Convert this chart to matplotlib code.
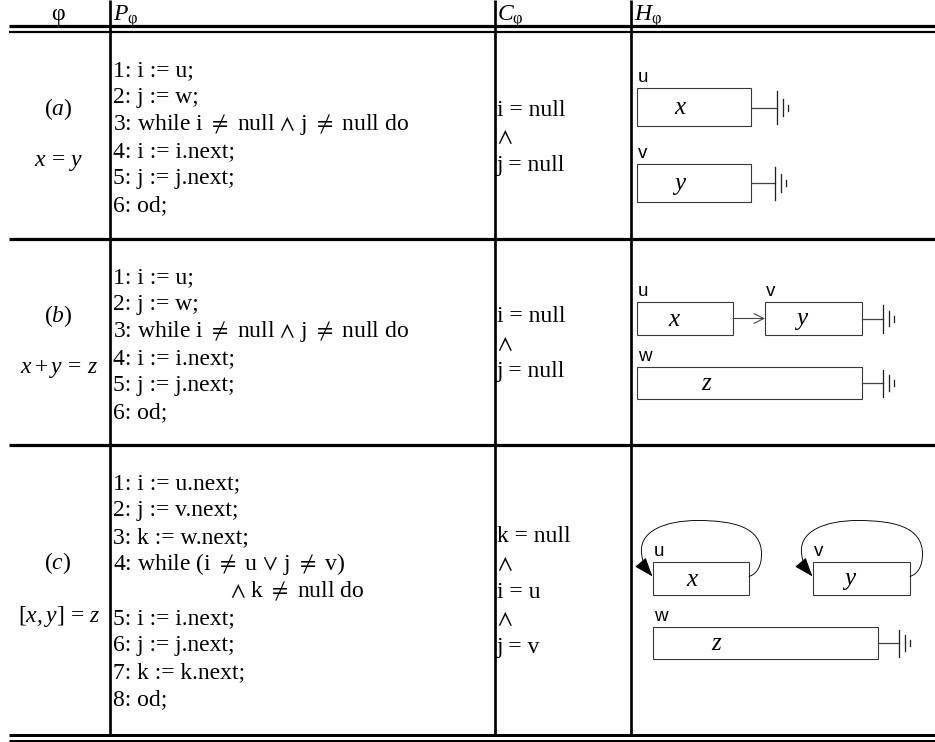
import matplotlib
matplotlib.use("Agg")
import matplotlib.pyplot as plt
from matplotlib.patches import Rectangle, FancyArrowPatch
from matplotlib.path import Path

plt.rcParams["font.family"] = ["Liberation Serif", "STIXGeneral", "DejaVu Serif"]
plt.rcParams["mathtext.fontset"] = "custom"
plt.rcParams["mathtext.rm"] = "Liberation Serif"
plt.rcParams["mathtext.it"] = "Liberation Serif:italic"
plt.rcParams["mathtext.fallback"] = "stix"

# ---- table content ----
headers = ["φ", r"$P_{\mathrm{φ}}$", r"$C_{\mathrm{φ}}$", r"$H_{\mathrm{φ}}$"]

phi_names = [r"$(a)$", r"$(b)$", r"$(c)$"]
phi_formulas = [r"$x\,=\,y$", r"$x + y\,=\,z$", r"$[x, y]\,=\,z$"]

programs = [
    ["1: i := u;", "2: j := w;", r"3: while i $\neq$ null $\wedge$ j $\neq$ null do",
     "4: i := i.next;", "5: j := j.next;", "6: od;"],
    ["1: i := u;", "2: j := w;", r"3: while i $\neq$ null $\wedge$ j $\neq$ null do",
     "4: i := i.next;", "5: j := j.next;", "6: od;"],
    ["1: i := u.next;", "2: j := v.next;", "3: k := w.next;",
     r"4: while (i $\neq$ u $\vee$ j $\neq$ v)", r"$\wedge$ k $\neq$ null do",
     "5: i := i.next;", "6: j := j.next;", "7: k := k.next;", "8: od;"],
]
# which program lines are continuation lines (indented)
continued = [[], [], [4]]

conditions = [
    ["i = null", r"$\wedge$", "j = null"],
    ["i = null", r"$\wedge$", "j = null"],
    ["k = null", r"$\wedge$", "i = u", r"$\wedge$", "j = v"],
]

heap_pointers = [["u", "v"], ["u", "v", "w"], ["u", "v", "w"]]
heap_contents = [["x", "y"], ["x", "y", "z"], ["x", "y", "z"]]

# ---- layout (pixels) ----
W, H = 935, 742
col_x = [110, 495, 631]           # vertical rules
row_top = [32, 239, 445]
row_bot = [239, 445, 734]
line_step = 27

fig = plt.figure(figsize=(W / 100, H / 100), dpi=100)
ax = fig.add_axes([0, 0, 1, 1])
ax.set_xlim(0, W)
ax.set_ylim(H, 0)
ax.axis("off")

px = 0.72  # pixel -> points

# rules
ax.plot([9, W], [26, 26], color="k", lw=3.2 * px, solid_capstyle="butt")
ax.plot([9, W], [32, 32], color="k", lw=2.2 * px, solid_capstyle="butt")
for y in row_bot[:-1]:
    ax.plot([9, W], [y, y], color="k", lw=3.2 * px, solid_capstyle="butt")
ax.plot([9, W], [734.5, 734.5], color="k", lw=3.0 * px, solid_capstyle="butt")
ax.plot([9, W], [740.5, 740.5], color="k", lw=3.0 * px, solid_capstyle="butt")
for x in col_x:
    ax.plot([x, x], [0, 734], color="k", lw=2.7 * px, solid_capstyle="butt")

fs = 17

# header
ax.text(58, 20, headers[0], fontsize=fs, ha="center", va="baseline")
ax.text(113, 21, headers[1], fontsize=fs, ha="left", va="baseline")
ax.text(497, 21, headers[2], fontsize=fs, ha="left", va="baseline")
ax.text(634, 21, headers[3], fontsize=fs, ha="left", va="baseline")

for r in range(3):
    top, bot = row_top[r], row_bot[r]
    yc = (top + bot) / 2
    # phi column
    ax.text(58, yc - 26, phi_names[r], fontsize=fs, ha="center", va="center")
    ax.text(59, yc + 27, phi_formulas[r], fontsize=fs, ha="center", va="center")
    # program column
    for k, line in enumerate(programs[r]):
        x = 230 if k in continued[r] else 113
        ax.text(x, top + 36 + 8 + k * line_step, line, fontsize=fs,
                ha="left", va="baseline", math_fontfamily="stix")
    # condition column
    n = len(conditions[r])
    for k, c in enumerate(conditions[r]):
        y = yc + (k - (n - 1) / 2) * 27.5 + 8
        ax.text(497, y, c, fontsize=fs, ha="left", va="baseline",
                math_fontfamily="stix")


def cell(x0, y0, w, h, ptr, val, dx):
    ax.add_patch(Rectangle((x0, y0), w, h, fill=False, ec="#383838", lw=1.1 * px))
    ax.text(x0 + 1, y0 - 6, ptr, fontsize=13.5, family="Liberation Sans",
            ha="left", va="baseline")
    ax.text(x0 + dx, y0 + h / 2 + 1, val, fontsize=fs + 1, style="italic",
            ha="center", va="center")


def ground(x, yc, h, length):
    ax.plot([x, x + length], [yc, yc], color="#444444", lw=1.3 * px)
    xs = [x + length, x + length + 5.5, x + length + 10.5]
    hs = [h - 5, h * 0.47, 6]
    for xx, hh in zip(xs, hs):
        ax.plot([xx, xx], [yc - hh / 2, yc + hh / 2], color="#222222", lw=1.3 * px)


def self_loop(x0, y0, w):
    rel = [(w, 14.4), (w + 8, 12), (w + 12.5, 4), (w + 12.5, -8),
           (w + 12.5, -35), (w - 16, -41.5), (45, -41.5),
           (10, -41.5), (-11.6, -30), (-11.6, -12),
           (-11.6, 0), (-6, 8), (-0.6, 14.4)]
    verts = [(x0 + a, y0 + b) for a, b in rel]
    codes = [Path.MOVETO] + [Path.CURVE4] * 12
    arr = FancyArrowPatch(path=Path(verts, codes),
                          arrowstyle="-|>,head_length=0.6,head_width=0.22",
                          mutation_scale=20, color="k", lw=0.9 * px)
    ax.add_patch(arr)


# row a heap
p, v = heap_pointers[0], heap_contents[0]
cell(637, 88, 114, 38, p[0], v[0], 43)
ground(751, 107.5, 38, 26)
cell(637, 164, 114, 38, p[1], v[1], 43)
ground(751, 183, 38, 24)

# row b heap
p, v = heap_pointers[1], heap_contents[1]
cell(637, 302, 96, 33, p[0], v[0], 37)
ax.add_patch(FancyArrowPatch((733, 318.5), (765, 318.5),
                             arrowstyle="->,head_length=0.5,head_width=0.25",
                             mutation_scale=14, shrinkA=0, shrinkB=0,
                             color="#444444", lw=1.1 * px))
cell(765, 302, 97, 33, p[1], v[1], 37)
ground(862, 318.5, 33, 21)
cell(637, 367, 225, 32, p[2], v[2], 69)
ground(862, 383, 32, 21)

# row c heap
p, v = heap_pointers[2], heap_contents[2]
cell(653, 562, 96, 33, p[0], v[0], 39)
self_loop(653, 562, 96)
cell(813, 562, 97, 33, p[1], v[1], 37)
self_loop(813, 562, 97)
cell(653, 627, 225, 32, p[2], v[2], 63)
ground(878, 643, 32, 21)

fig.savefig("out.png", dpi=100)
